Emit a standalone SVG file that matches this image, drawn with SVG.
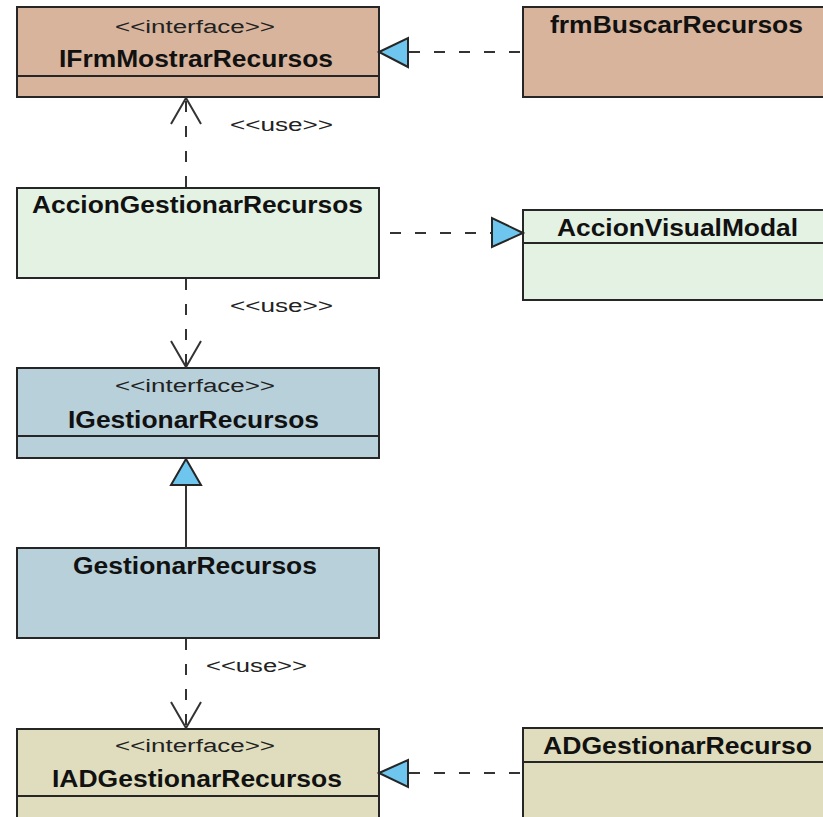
<svg xmlns="http://www.w3.org/2000/svg" width="823" height="817" viewBox="0 0 823 817">
  <style>
    .box { stroke: #262626; stroke-width: 2; }
    .sep { stroke: #262626; stroke-width: 2; fill: none; }
    .tan { fill: #D7B49B; }
    .mint { fill: #E4F2E3; }
    .steel { fill: #B7D0DA; }
    .khaki { fill: #DFDDBD; }
    .stereo { font-family: "Liberation Sans", Arial, sans-serif; font-size: 18px; fill: #222; }
    .name { font-family: "Liberation Sans", Arial, sans-serif; font-size: 23px; font-weight: bold; fill: #111; }
    .dash { stroke: #333; stroke-width: 2; fill: none; stroke-dasharray: 11 14; }
    .solid { stroke: #333; stroke-width: 2; fill: none; }
    .open { stroke: #333; stroke-width: 2; fill: none; stroke-linejoin: miter; }
    .tri { fill: #6EC6EE; stroke: #262626; stroke-width: 2; stroke-linejoin: miter; }
  </style>
  <rect width="823" height="817" fill="#FFFFFF"/>

  <g id="IFrmMostrarRecursos">
    <rect class="box tan" x="17" y="7" width="362" height="90"/>
    <line class="sep" x1="17" y1="76" x2="379" y2="76"/>
    <text class="stereo" x="115" y="33" textLength="160" lengthAdjust="spacingAndGlyphs">&lt;&lt;interface&gt;&gt;</text>
    <text class="name" x="59" y="67" textLength="274" lengthAdjust="spacingAndGlyphs">IFrmMostrarRecursos</text>
  </g>

  <g id="frmBuscarRecursos">
    <rect class="box tan" x="523" y="7" width="320" height="90"/>
    <text class="name" x="550" y="33" textLength="253" lengthAdjust="spacingAndGlyphs">frmBuscarRecursos</text>
  </g>

  <g id="AccionGestionarRecursos">
    <rect class="box mint" x="17" y="188" width="362" height="90"/>
    <text class="name" x="32" y="213" textLength="331" lengthAdjust="spacingAndGlyphs">AccionGestionarRecursos</text>
  </g>

  <g id="AccionVisualModal">
    <rect class="box mint" x="523" y="210" width="320" height="90"/>
    <line class="sep" x1="523" y1="243" x2="823" y2="243"/>
    <text class="name" x="557" y="236" textLength="241" lengthAdjust="spacingAndGlyphs">AccionVisualModal</text>
  </g>

  <g id="IGestionarRecursos">
    <rect class="box steel" x="17" y="368" width="362" height="90"/>
    <line class="sep" x1="17" y1="436" x2="379" y2="436"/>
    <text class="stereo" x="115" y="392" textLength="160" lengthAdjust="spacingAndGlyphs">&lt;&lt;interface&gt;&gt;</text>
    <text class="name" x="68" y="428" textLength="251" lengthAdjust="spacingAndGlyphs">IGestionarRecursos</text>
  </g>

  <g id="GestionarRecursos">
    <rect class="box steel" x="17" y="548" width="362" height="90"/>
    <text class="name" x="73" y="574" textLength="244" lengthAdjust="spacingAndGlyphs">GestionarRecursos</text>
  </g>

  <g id="IADGestionarRecursos">
    <rect class="box khaki" x="17" y="729" width="362" height="110"/>
    <line class="sep" x1="17" y1="796" x2="379" y2="796"/>
    <text class="stereo" x="115" y="752" textLength="160" lengthAdjust="spacingAndGlyphs">&lt;&lt;interface&gt;&gt;</text>
    <text class="name" x="52" y="787" textLength="290" lengthAdjust="spacingAndGlyphs">IADGestionarRecursos</text>
  </g>

  <g id="ADGestionarRecurso">
    <rect class="box khaki" x="523" y="728" width="320" height="110"/>
    <line class="sep" x1="523" y1="762" x2="823" y2="762"/>
    <text class="name" x="543" y="754" textLength="269" lengthAdjust="spacingAndGlyphs">ADGestionarRecurso</text>
  </g>

  <g id="connectors">
    <!-- frmBuscarRecursos realizes IFrmMostrarRecursos -->
    <line class="dash" x1="409" y1="52" x2="523" y2="52"/>
    <polygon class="tri" points="379,52 408,38 408,67"/>

    <!-- AccionGestionarRecursos realizes AccionVisualModal -->
    <line class="dash" x1="390" y1="233" x2="492" y2="233"/>
    <polygon class="tri" points="523,233 492,218 492,247"/>

    <!-- AccionGestionarRecursos uses IFrmMostrarRecursos -->
    <line class="dash" x1="186" y1="187" x2="186" y2="99"/>
    <polyline class="open" points="171,124 186,98 201,124"/>
    <text class="stereo" x="230" y="131" textLength="103" lengthAdjust="spacingAndGlyphs">&lt;&lt;use&gt;&gt;</text>

    <!-- AccionGestionarRecursos uses IGestionarRecursos -->
    <line class="dash" x1="186" y1="279" x2="186" y2="366"/>
    <polyline class="open" points="171,341 186,367 201,341"/>
    <text class="stereo" x="230" y="312" textLength="103" lengthAdjust="spacingAndGlyphs">&lt;&lt;use&gt;&gt;</text>

    <!-- GestionarRecursos generalizes to IGestionarRecursos -->
    <line class="solid" x1="186" y1="485" x2="186" y2="548"/>
    <polygon class="tri" points="186,459 171,485 201,485"/>

    <!-- GestionarRecursos uses IADGestionarRecursos -->
    <line class="dash" x1="186" y1="639" x2="186" y2="727"/>
    <polyline class="open" points="171,702 186,728 201,702"/>
    <text class="stereo" x="206" y="672" textLength="101" lengthAdjust="spacingAndGlyphs">&lt;&lt;use&gt;&gt;</text>

    <!-- ADGestionarRecurso realizes IADGestionarRecursos -->
    <line class="dash" x1="409" y1="773" x2="523" y2="773"/>
    <polygon class="tri" points="379,773 408,760 408,787"/>
  </g>
</svg>
